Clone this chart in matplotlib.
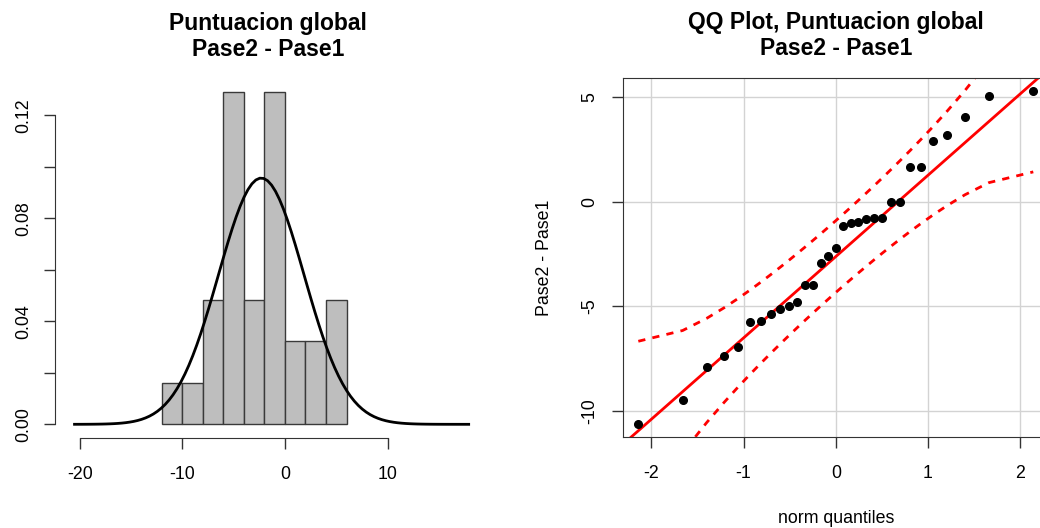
import math
import numpy as np
import pandas as pd
import matplotlib
matplotlib.use('Agg')
import matplotlib.pyplot as plt

plt.rcParams['font.family'] = ['Liberation Sans', 'DejaVu Sans']
plt.rcParams['axes.unicode_minus'] = False

# Pase2 - Pase1 differences (sorted)
diff = [-10.63, -9.47, -7.90, -7.36, -6.96, -5.74, -5.72, -5.38, -5.12, -4.99,
        -4.80, -4.00, -4.00, -2.93, -2.60, -2.20, -1.17, -1.01, -0.97, -0.84,
        -0.77, -0.77, 0.00, 0.00, 1.66, 1.68, 2.90, 3.17, 4.03, 5.04, 5.28]
# theoretical normal quantiles on the x axis of the QQ plot
norm_q = [-2.141, -1.660, -1.401, -1.211, -1.057, -0.925, -0.807, -0.700, -0.600, -0.506,
          -0.416, -0.330, -0.245, -0.162, -0.081, 0.0, 0.081, 0.162, 0.245, 0.330,
          0.416, 0.506, 0.600, 0.700, 0.807, 0.925, 1.057, 1.211, 1.401, 1.660, 2.141]
hist_breaks = [-12, -10, -8, -6, -4, -2, 0, 2, 4, 6]
hist_xticks = [-20, -10, 0, 10]
hist_yticks = [0.00, 0.02, 0.04, 0.06, 0.08, 0.10, 0.12]
hist_ylabels = ['0.00', '', '0.04', '', '0.08', '', '0.12']
qq_xticks = [-2, -1, 0, 1, 2]
qq_yticks = [-10, -5, 0, 5]

x = np.array(diff)
z = np.array(norm_q)
n = len(x)

fig = plt.figure(figsize=(10.4, 5.28), dpi=100)
TICK = 12.8
TITLE = 16.5
AX_COL = '#333333'

##############################
# histogram + normal curve
##############################
ax1 = fig.add_axes([0.0529, 0.171, 0.4096, 0.680])
# R's hist() uses right-closed bins
counts = pd.Series(pd.cut(x, bins=hist_breaks, include_lowest=True)).value_counts(sort=False).sort_index().values
dens = counts / (n * np.diff(hist_breaks))
ax1.bar(hist_breaks[:-1], dens, width=np.diff(hist_breaks), align='edge',
        color='#bebebe', edgecolor='#3a3a3a', linewidth=1.0)

# normal density with sample mean/sd
m, sd = x.mean(), x.std(ddof=1)
grid = np.linspace(-20.5, 17.9, 101)
curve = np.exp(-0.5 * ((grid - m) / sd) ** 2) / (sd * math.sqrt(2 * math.pi))
ax1.plot(grid, curve, color='black', lw=2)

ax1.set_xlim(-22.4, 19.1)
ax1.set_ylim(-0.0052, 0.1342)
for s in ['top', 'right']:
    ax1.spines[s].set_visible(False)
ax1.spines['left'].set_bounds(0, 0.12)
ax1.spines['bottom'].set_bounds(-20, 10)
for s in ['left', 'bottom']:
    ax1.spines[s].set_color(AX_COL)
ax1.set_xticks(hist_xticks)
ax1.set_yticks(hist_yticks)
ax1.set_yticklabels(hist_ylabels, rotation=90, va='center')
ax1.tick_params(length=7.8, width=1, color=AX_COL, labelsize=TICK)
ax1.tick_params(axis='x', pad=12.5)
ax1.tick_params(axis='y', pad=8.5)
ax1.set_title('Puntuacion global\nPase2 - Pase1', fontsize=TITLE, fontweight='bold', pad=16.5, linespacing=1.15)

##############################
# QQ plot
##############################
ax2 = fig.add_axes([0.5986, 0.1718, 0.4101, 0.6806])
q1, q3 = np.quantile(x, 0.25), np.quantile(x, 0.75)
slope = (q3 - q1) / (0.6744898 * 2)
intercept = q1 + slope * 0.6744898
P = 0.5 * (1 + np.array([math.erf(v / math.sqrt(2)) for v in z]))
SE = (slope / (np.exp(-z ** 2 / 2) / math.sqrt(2 * math.pi))) * np.sqrt(P * (1 - P) / n)
fit = intercept + slope * z

ax2.set_xlim(-2.312, 2.312)
ax2.set_ylim(-11.27, 5.92)
for v in qq_xticks:
    ax2.axvline(v, color='#d3d3d3', lw=1, zorder=0)
for v in qq_yticks:
    ax2.axhline(v, color='#d3d3d3', lw=1, zorder=0)
ax2.axline((0, intercept), slope=slope, color='red', lw=2)
ax2.plot(z, fit + 1.96 * SE, color='red', lw=2, dashes=(2.6, 2.6))
ax2.plot(z, fit - 1.96 * SE, color='red', lw=2, dashes=(2.6, 2.6))
ax2.plot(z, np.sort(x), 'o', color='black', markersize=5.5)

ax2.set_xticks(qq_xticks)
ax2.set_yticks(qq_yticks)
ax2.set_yticklabels([str(v) for v in qq_yticks], rotation=90, va='center')
ax2.tick_params(length=7.8, width=1, color=AX_COL, labelsize=TICK)
ax2.tick_params(axis='x', pad=12.5)
ax2.tick_params(axis='y', pad=10)
for s in ax2.spines.values():
    s.set_color(AX_COL)
ax2.set_xlabel('norm quantiles', fontsize=TICK, labelpad=20)
ax2.set_ylabel('Pase2 - Pase1', fontsize=TICK, labelpad=20)
ax2.set_title('QQ Plot, Puntuacion global\nPase2 - Pase1', fontsize=TITLE, fontweight='bold', pad=16.5, linespacing=1.15)

fig.savefig('out.png', dpi=100)
